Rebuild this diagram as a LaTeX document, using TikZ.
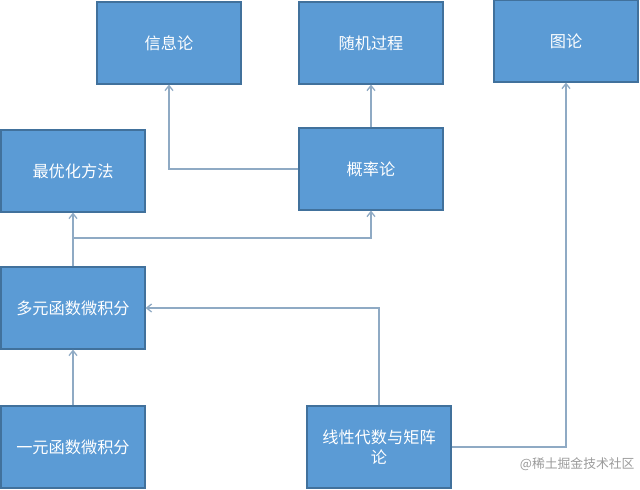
\documentclass[tikz,border=0pt]{standalone}
\usepackage{fontspec}
\newfontfamily\cjk{Noto Sans CJK SC}
\usepackage{xcolor}
\usepackage{tikz}
\usetikzlibrary{positioning, arrows.meta}
\definecolor{bFill}{HTML}{5B9BD5}
\definecolor{bEdge}{HTML}{41719C}
\definecolor{lLine}{HTML}{8FAAC4}
\definecolor{wGray}{HTML}{9A9A9A}

\begin{document}
\begin{tikzpicture}[x=1pt, y=-1pt, >={Straight Barb[length=5pt,width=8pt]},
          topic/.style={draw=bEdge, fill=bFill, line width=1.2pt, minimum width=144pt, minimum height=82pt,
            align=center, text=white, font=\cjk\fontsize{16.2}{19.5}\selectfont, inner sep=0pt},
          link/.style={->, lLine, line width=1.3pt}]
        \useasboundingbox (0,0) rectangle (640,490);
        \node[topic] (info) at (169,43) {信息论};
        \node[topic] (proc) at (371,43) {随机过程};
        \node[topic] (graph) at (566,41) {图论};
        \node[topic] (opt) at (73,171) {最优化方法};
        \node[topic] (prob) at (371,169) {概率论};
        \node[topic] (multi) at (73,308) {多元函数微积分};
        \node[topic] (uni) at (73,447) {一元函数微积分};
        \node[topic] (lin) at (379,447) {线性代数与矩阵\\论};
        \coordinate (split) at (73,238);
        \draw[link] (uni) -- (multi);
        \draw[link] (multi) -- (opt);
        \draw[link] (split) -| (prob.south);
        \draw[link] (prob.west) -| (info.south);
        \draw[link] (prob) -- (proc);
        \draw[link] (lin.north) |- (multi.east);
        \draw[link] (lin.east) -| (graph.south);
        \node[text=wGray, font=\cjk\fontsize{12.8}{15}\selectfont, anchor=east] (mark) at (638,464) {@稀土掘金技术社区};
      \end{tikzpicture}
\end{document}
